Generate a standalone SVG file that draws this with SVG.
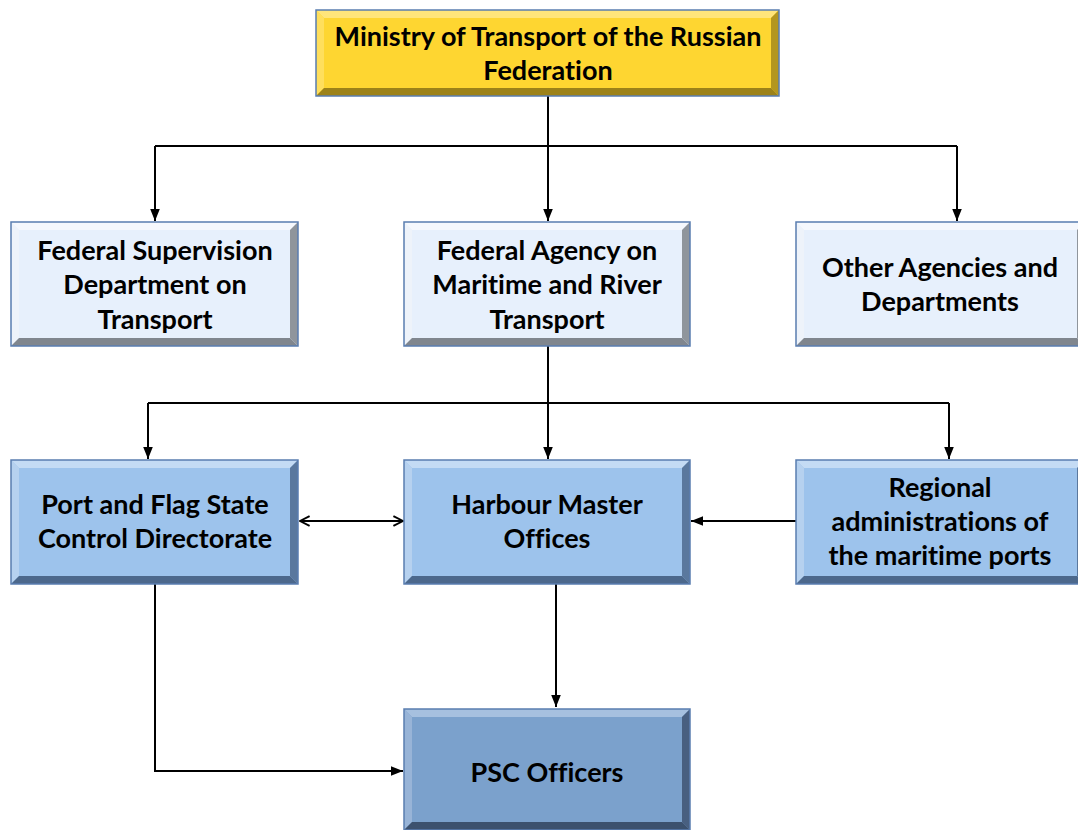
<svg xmlns="http://www.w3.org/2000/svg" width="1078" height="830" viewBox="0 0 1078 830">
<defs>
<style>
text{font-family:Lato,"Open Sans","Liberation Sans",sans-serif;font-weight:bold;font-size:27px;fill:#000;text-anchor:middle;font-variant-ligatures:none}
.edge{fill:none;stroke:#000;stroke-width:2}
.out{fill:none;stroke:#5A7DB0;stroke-width:1.5}
.y .f{fill:#FED631}.y .t{fill:#FFE57A}.y .l{fill:#FFDF5C}.y .r{fill:#B3961F}.y .b{fill:#9C8219}
.w .f{fill:#E7F0FC}.w .t{fill:#F5F8FD}.w .l{fill:#EEF3FA}.w .r{fill:#8F959C}.w .b{fill:#80868E}
.m .f{fill:#9DC3EC}.m .t{fill:#C4DBF4}.m .l{fill:#B6D1EF}.m .r{fill:#5A789E}.m .b{fill:#4C688C}
.d .f{fill:#7BA1CC}.d .t{fill:#A6C0DF}.d .l{fill:#98B4D7}.d .r{fill:#485F80}.d .b{fill:#3C516E}
</style>
<marker id="ah" viewBox="0 0 10 10" refX="10" refY="5" markerWidth="6" markerHeight="6" orient="auto-start-reverse" markerUnits="strokeWidth"><path d="M0,1 L10,5 L0,9 Z" fill="#000"/></marker>
<marker id="oa" viewBox="0 0 10 10" refX="9" refY="5" markerWidth="6" markerHeight="6" orient="auto-start-reverse" markerUnits="strokeWidth"><path d="M1,1 L9,5 L1,9" fill="none" stroke="#000" stroke-width="1.6"/></marker>
</defs>
<rect width="1078" height="830" fill="#fff"/>

<g id="connectors">
<path class="edge" d="M548,96 V146 M155,146 H957"/>
<path class="edge" d="M155,146 V221" marker-end="url(#ah)"/>
<path class="edge" d="M548,146 V221" marker-end="url(#ah)"/>
<path class="edge" d="M957,146 V221" marker-end="url(#ah)"/>
<path class="edge" d="M548,346 V403 M148,403 H949"/>
<path class="edge" d="M148,403 V459" marker-end="url(#ah)"/>
<path class="edge" d="M548,403 V459" marker-end="url(#ah)"/>
<path class="edge" d="M949,403 V459" marker-end="url(#ah)"/>
<path class="edge" d="M300,521 H403" marker-start="url(#oa)" marker-end="url(#oa)"/>
<path class="edge" d="M796,521 H691" marker-end="url(#ah)"/>
<path class="edge" d="M556,584 V707" marker-end="url(#ah)"/>
<path class="edge" d="M155,584 V771 H403" marker-end="url(#ah)"/>
</g>

<g id="ministry" class="y">
<rect class="f" x="316" y="10" width="463" height="86"/>
<polygon class="t" points="316,10 779,10 771,18 324,18"/>
<polygon class="l" points="316,10 324,18 324,88 316,96"/>
<polygon class="r" points="779,10 779,96 771,88 771,18"/>
<polygon class="b" points="316,96 779,96 771,88 324,88"/>
<rect class="out" x="316" y="10" width="463" height="86"/>
<text x="548" y="46">Ministry of Transport of the Russian</text>
<text x="548" y="80">Federation</text>
</g>

<g id="fsdt" class="w">
<rect class="f" x="11" y="222" width="287" height="124"/>
<polygon class="t" points="11,222 298,222 290,230 19,230"/>
<polygon class="l" points="11,222 19,230 19,338 11,346"/>
<polygon class="r" points="298,222 298,346 290,338 290,230"/>
<polygon class="b" points="11,346 298,346 290,338 19,338"/>
<rect class="out" x="11" y="222" width="287" height="124"/>
<text x="155" y="260">Federal Supervision</text>
<text x="155" y="294">Department on</text>
<text x="155" y="329">Transport</text>
</g>

<g id="famrt" class="w">
<rect class="f" x="404" y="222" width="286" height="124"/>
<polygon class="t" points="404,222 690,222 682,230 412,230"/>
<polygon class="l" points="404,222 412,230 412,338 404,346"/>
<polygon class="r" points="690,222 690,346 682,338 682,230"/>
<polygon class="b" points="404,346 690,346 682,338 412,338"/>
<rect class="out" x="404" y="222" width="286" height="124"/>
<text x="547" y="260">Federal Agency on</text>
<text x="547" y="294">Maritime and River</text>
<text x="547" y="329">Transport</text>
</g>

<g id="other" class="w">
<rect class="f" x="796" y="222" width="289" height="124"/>
<polygon class="t" points="796,222 1085,222 1077,230 804,230"/>
<polygon class="l" points="796,222 804,230 804,338 796,346"/>
<polygon class="r" points="1085,222 1085,346 1077,338 1077,230"/>
<polygon class="b" points="796,346 1085,346 1077,338 804,338"/>
<rect class="out" x="796" y="222" width="289" height="124"/>
<text x="940" y="277">Other Agencies and</text>
<text x="940" y="311">Departments</text>
</g>

<g id="pfscd" class="m">
<rect class="f" x="11" y="460" width="287" height="124"/>
<polygon class="t" points="11,460 298,460 290,468 19,468"/>
<polygon class="l" points="11,460 19,468 19,576 11,584"/>
<polygon class="r" points="298,460 298,584 290,576 290,468"/>
<polygon class="b" points="11,584 298,584 290,576 19,576"/>
<rect class="out" x="11" y="460" width="287" height="124"/>
<text x="155" y="514">Port and Flag State</text>
<text x="155" y="548">Control Directorate</text>
</g>

<g id="hmo" class="m">
<rect class="f" x="404" y="460" width="286" height="124"/>
<polygon class="t" points="404,460 690,460 682,468 412,468"/>
<polygon class="l" points="404,460 412,468 412,576 404,584"/>
<polygon class="r" points="690,460 690,584 682,576 682,468"/>
<polygon class="b" points="404,584 690,584 682,576 412,576"/>
<rect class="out" x="404" y="460" width="286" height="124"/>
<text x="547" y="514">Harbour Master</text>
<text x="547" y="548">Offices</text>
</g>

<g id="regional" class="m">
<rect class="f" x="796" y="460" width="289" height="124"/>
<polygon class="t" points="796,460 1085,460 1077,468 804,468"/>
<polygon class="l" points="796,460 804,468 804,576 796,584"/>
<polygon class="r" points="1085,460 1085,584 1077,576 1077,468"/>
<polygon class="b" points="796,584 1085,584 1077,576 804,576"/>
<rect class="out" x="796" y="460" width="289" height="124"/>
<text x="940" y="497">Regional</text>
<text x="940" y="531">administrations of</text>
<text x="940" y="565">the maritime ports</text>
</g>

<g id="psc" class="d">
<rect class="f" x="404" y="709" width="286" height="121"/>
<polygon class="t" points="404,709 690,709 682,717 412,717"/>
<polygon class="l" points="404,709 412,717 412,822 404,830"/>
<polygon class="r" points="690,709 690,830 682,822 682,717"/>
<polygon class="b" points="404,830 690,830 682,822 412,822"/>
<rect class="out" x="404" y="709" width="286" height="121"/>
<text x="547" y="782">PSC Officers</text>
</g>
</svg>
